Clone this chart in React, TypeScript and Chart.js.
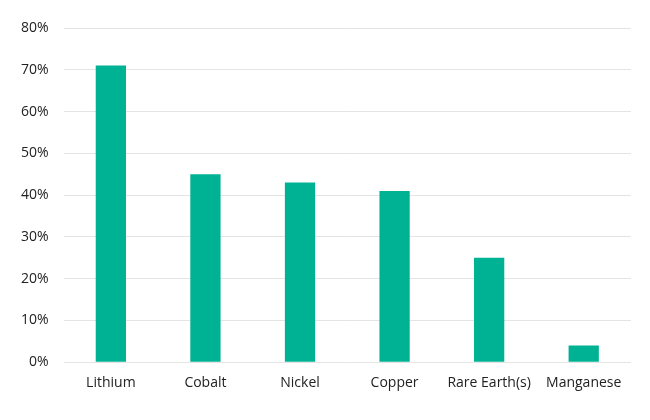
import React, { useEffect, useRef } from "react";
import { Chart, registerables } from "chart.js";

Chart.register(...registerables);

const categories = ["Lithium", "Cobalt", "Nickel", "Copper", "Rare Earth(s)", "Manganese"];
const values = [71, 45, 43, 41, 25, 4];
const yTicks = [0, 10, 20, 30, 40, 50, 60, 70, 80];

export default function App() {
  const ref = useRef<HTMLCanvasElement | null>(null);
  useEffect(() => {
    document.body.style.margin = "0";
    const ctx = ref.current!;
    const chart = new Chart(ctx, {
      type: "bar",
      data: {
        labels: categories,
        datasets: [
          {
            data: values,
            backgroundColor: "#00B294",
            borderWidth: 0,
            categoryPercentage: 1,
            barPercentage: 0.32,
          },
        ],
      },
      options: {
        animation: false,
        responsive: false,
        layout: { padding: { left: 6, right: 19, top: 28, bottom: 25 } },
        plugins: { legend: { display: false }, tooltip: { enabled: false } },
        scales: {
          x: {
            grid: { display: false },
            border: { display: false },
            ticks: {
              color: "#222",
              font: { family: "Open Sans", size: 14 },
              padding: 4,
              maxRotation: 0,
              autoSkip: false,
            },
          },
          y: {
            min: 0,
            max: 80,
            afterBuildTicks: (axis: any) => {
              axis.ticks = yTicks.map((v) => ({ value: v }));
            },
            grid: { color: "#e4e4e4", lineWidth: 1, drawTicks: false },
            border: { display: false },
            ticks: {
              color: "#222",
              font: { family: "Open Sans", size: 14 },
              padding: 15,
              callback: (v: any) => v + "%",
            },
          },
        },
      },
    });
    return () => chart.destroy();
  }, []);
  return <canvas ref={ref} width={650} height={420} style={{ display: "block" }} />;
}
